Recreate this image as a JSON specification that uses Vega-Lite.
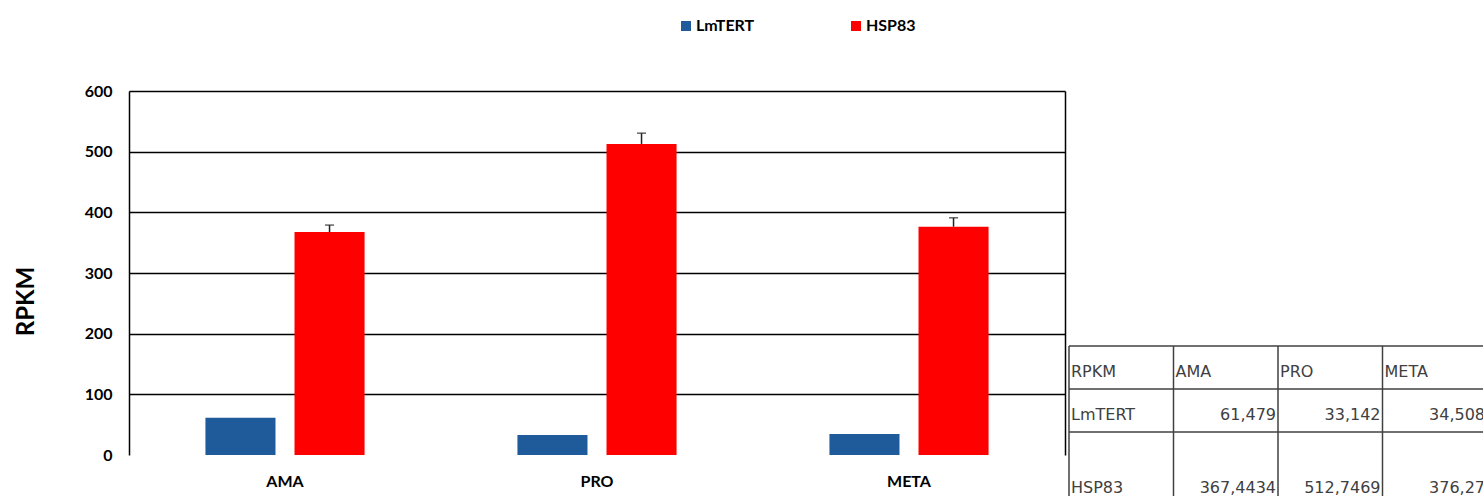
{
  "$schema": "https://vega.github.io/schema/vega-lite/v6.json",
  "width": 936,
  "height": 364,
  "autosize": {"type": "none"},
  "padding": {"left": 129, "top": 91, "right": 418, "bottom": 41},
  "background": "white",
  "config": {"view": {"stroke": null}, "font": "Lato"},
  "datasets": {
    "bars": [
      {"stage": "AMA", "gene": "LmTERT", "value": 61.479},
      {"stage": "AMA", "gene": "HSP83", "value": 367.4434, "upper": 379},
      {"stage": "PRO", "gene": "LmTERT", "value": 33.142},
      {"stage": "PRO", "gene": "HSP83", "value": 512.7469, "upper": 530.5},
      {"stage": "META", "gene": "LmTERT", "value": 34.508},
      {"stage": "META", "gene": "HSP83", "value": 376.27, "upper": 391}
    ],
    "table": [
      {"row": "header", "col": "label", "text": "RPKM", "kind": "label"},
      {"row": "header", "col": "AMA", "text": "AMA", "kind": "label"},
      {"row": "header", "col": "PRO", "text": "PRO", "kind": "label"},
      {"row": "header", "col": "META", "text": "META", "kind": "label"},
      {"row": "LmTERT", "col": "label", "text": "LmTERT", "kind": "label"},
      {"row": "LmTERT", "col": "AMA", "text": "61,479", "kind": "num"},
      {"row": "LmTERT", "col": "PRO", "text": "33,142", "kind": "num"},
      {"row": "LmTERT", "col": "META", "text": "34,508", "kind": "num"},
      {"row": "HSP83", "col": "label", "text": "HSP83", "kind": "label"},
      {"row": "HSP83", "col": "AMA", "text": "367,4434", "kind": "num"},
      {"row": "HSP83", "col": "PRO", "text": "512,7469", "kind": "num"},
      {"row": "HSP83", "col": "META", "text": "376,27", "kind": "num"}
    ]
  },
  "layer": [
    {
      "data": {"name": "bars"},
      "layer": [
        {
          "mark": {"type": "bar"},
          "encoding": {
            "x": {
              "field": "stage", "type": "nominal",
              "scale": {"domain": ["AMA", "PRO", "META"], "paddingInner": 0.49, "paddingOuter": 0.245},
              "axis": {"title": null, "domain": false, "ticks": false, "grid": false, "labelAngle": 0, "labelPadding": 18, "labelFont": "Lato", "labelFontWeight": "bold", "labelFontSize": 16, "labelColor": "#000"}
            },
            "xOffset": {
              "field": "gene", "type": "nominal",
              "scale": {"domain": ["LmTERT", "HSP83"], "paddingInner": 0.2135, "paddingOuter": 0}
            },
            "y": {
              "field": "value", "type": "quantitative",
              "scale": {"domain": [0, 600], "nice": false},
              "axis": {
                "values": [0, 100, 200, 300, 400, 500, 600],
                "domain": true, "domainColor": "#000", "domainWidth": 1.5,
                "ticks": false, "labelPadding": 17,
                "labelFont": "Lato", "labelFontWeight": "bold", "labelFontSize": 16, "labelColor": "#000",
                "grid": true, "gridColor": "#000", "gridWidth": 1.5,
                "gridOpacity": {"condition": {"test": "datum.value === 0", "value": 0}, "value": 1},
                "title": "RPKM", "titleFont": "Lato", "titleFontWeight": "bold", "titleFontSize": 24, "titleColor": "#000",
                "titleX": -96, "titleY": 210, "titleBaseline": "alphabetic", "titleAlign": "center", "titleAngle": 270
              }
            },
            "color": {
              "field": "gene", "type": "nominal",
              "scale": {"domain": ["LmTERT", "HSP83"], "range": ["#1F5A9A", "#FF0000"]},
              "legend": {
                "orient": "none", "legendX": 549, "legendY": -73, "direction": "horizontal",
                "title": null, "symbolType": "square", "symbolSize": 100, "symbolStrokeWidth": 0,
                "labelFont": "Lato", "labelFontWeight": "bold", "labelFontSize": 16, "labelColor": "#000",
                "labelOffset": 2, "columnPadding": 93
              }
            }
          }
        },
        {
          "transform": [{"filter": "datum.upper != null"}],
          "mark": {"type": "rule", "color": "#222", "strokeWidth": 1.5},
          "encoding": {
            "x": {"field": "stage", "type": "nominal"},
            "xOffset": {"field": "gene", "type": "nominal"},
            "y": {
              "field": "value", "type": "quantitative",
              "scale": {"domain": [0, 600], "nice": false},
              "axis": {"orient": "right", "labels": false, "ticks": false, "grid": false, "domain": true, "domainColor": "#000", "domainWidth": 1.5, "title": null}
            },
            "y2": {"field": "upper"}
          }
        },
        {
          "transform": [{"filter": "datum.upper != null"}],
          "mark": {"type": "tick", "orient": "horizontal", "size": 9, "thickness": 1.5, "color": "#222"},
          "encoding": {
            "x": {"field": "stage", "type": "nominal"},
            "xOffset": {"field": "gene", "type": "nominal"},
            "y": {"field": "upper", "type": "quantitative", "scale": {"domain": [0, 600], "nice": false}, "axis": null}
          }
        }
      ],
      "resolve": {"axis": {"y": "independent"}}
    },
    {
      "data": {"name": "table"},
      "layer": [
        {
          "transform": [{"filter": "datum.col == 'label'"}],
          "mark": {"type": "rule", "color": "#404040", "strokeWidth": 1.5},
          "encoding": {
            "x": {"datum": "label", "type": "nominal", "bandPosition": 0, "scale": {"domain": ["label", "AMA", "PRO", "META", "end"], "range": [940, 1462.5], "paddingInner": 0, "paddingOuter": 0}, "axis": null},
            "x2": {"datum": "end"},
            "y": {"field": "row", "type": "nominal", "bandPosition": 0, "scale": {"domain": ["header", "LmTERT", "HSP83", "end"], "range": [255, 427], "paddingInner": 0, "paddingOuter": 0}, "axis": null}
          }
        },
        {
          "transform": [{"filter": "datum.row == 'header'"}],
          "mark": {"type": "rule", "color": "#404040", "strokeWidth": 1.5},
          "encoding": {
            "x": {"field": "col", "type": "nominal", "bandPosition": 0, "scale": {"domain": ["label", "AMA", "PRO", "META", "end"], "range": [940, 1462.5], "paddingInner": 0, "paddingOuter": 0}, "axis": null},
            "y": {"datum": "header", "type": "nominal", "bandPosition": 0, "scale": {"domain": ["header", "LmTERT", "HSP83", "end"], "range": [255, 427], "paddingInner": 0, "paddingOuter": 0}, "axis": null},
            "y2": {"datum": "end"}
          }
        },
        {
          "transform": [{"filter": "datum.kind == 'label' && datum.row != 'HSP83'"}],
          "mark": {"type": "text", "align": "left", "baseline": "alphabetic", "dx": 2, "font": "DejaVu Sans", "fontSize": 16, "color": "#404040"},
          "encoding": {
            "x": {"field": "col", "type": "nominal", "bandPosition": 0, "axis": null},
            "y": {"field": "row", "type": "nominal", "bandPosition": 0.72, "axis": null},
            "text": {"field": "text"}
          }
        },
        {
          "transform": [{"filter": "datum.kind == 'num' && datum.row != 'HSP83'"}],
          "mark": {"type": "text", "align": "right", "baseline": "alphabetic", "dx": -2, "font": "DejaVu Sans", "fontSize": 16, "color": "#404040"},
          "encoding": {
            "x": {"field": "col", "type": "nominal", "bandPosition": 1, "axis": null},
            "y": {"field": "row", "type": "nominal", "bandPosition": 0.72, "axis": null},
            "text": {"field": "text"}
          }
        },
        {
          "transform": [{"filter": "datum.kind == 'label' && datum.row == 'HSP83'"}],
          "mark": {"type": "text", "align": "left", "baseline": "alphabetic", "dx": 2, "dy": 30, "font": "DejaVu Sans", "fontSize": 16, "color": "#404040"},
          "encoding": {
            "x": {"field": "col", "type": "nominal", "bandPosition": 0, "axis": null},
            "y": {"field": "row", "type": "nominal", "bandPosition": 0.72, "axis": null},
            "text": {"field": "text"}
          }
        },
        {
          "transform": [{"filter": "datum.kind == 'num' && datum.row == 'HSP83'"}],
          "mark": {"type": "text", "align": "right", "baseline": "alphabetic", "dx": -2, "dy": 30, "font": "DejaVu Sans", "fontSize": 16, "color": "#404040"},
          "encoding": {
            "x": {"field": "col", "type": "nominal", "bandPosition": 1, "axis": null},
            "y": {"field": "row", "type": "nominal", "bandPosition": 0.72, "axis": null},
            "text": {"field": "text"}
          }
        }
      ]
    }
  ],
  "resolve": {"scale": {"x": "independent", "y": "independent"}}
}
